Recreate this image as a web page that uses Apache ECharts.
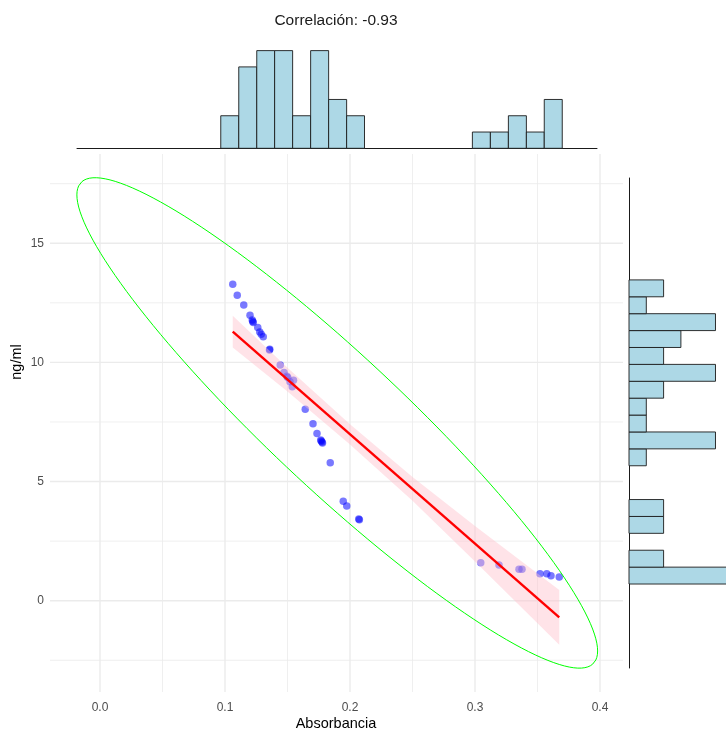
<!DOCTYPE html>
<html><head><meta charset="utf-8">
<script src="https://cdn.jsdelivr.net/npm/echarts@6/dist/echarts.min.js"></script>
<style>html,body{margin:0;padding:0;background:#fff}#c{width:726px;height:734px}</style>
</head><body><div id="c"></div><script>
// ---- data ----
const absorbancia = [0.1062,0.1098,0.1150,0.1200,0.1218,0.1226,0.1222,0.1262,0.1278,0.1290,0.1306,0.1358,0.1356,
  0.1442,0.1472,0.1495,0.1502,0.1520,0.1538,0.1548,0.1642,0.1704,0.1736,0.1766,0.1770,0.1776,0.1780,0.1842,
  0.1946,0.1974,0.2070,0.2075,0.3046,0.3192,0.3352,0.3376,0.3520,0.3574,0.3608,0.3674];
const ngml = [13.28,12.82,12.41,11.98,11.78,11.67,11.72,11.46,11.28,11.18,11.08,10.55,10.52,
  9.89,9.58,9.42,9.37,9.19,8.98,9.25,8.03,7.43,7.02,6.74,6.70,6.66,6.62,5.79,
  4.17,3.97,3.43,3.40,1.59,1.50,1.32,1.32,1.13,1.13,1.05,0.99];
const fitX = [0.1062, 0.3674];
const fitY = [11.29, -0.70];
const bandX  = [0.1062, 0.15, 0.2, 0.25, 0.3, 0.3674];
const bandLo = [10.62, 8.78, 6.56, 4.19, 1.64, -1.85];
const bandHi = [11.96, 9.78, 7.40, 5.19, 3.14, 0.45];
const xBinEdges = [0.0966,0.1110,0.1254,0.1397,0.1541,0.1685,0.1829,0.1973,0.2116,0.2260,0.2404,0.2548,0.2692,0.2835,0.2979,0.3123,0.3267,0.3411,0.3554,0.3698];
const xBinCounts = [2,5,6,6,2,6,3,2,0,0,0,0,0,0,1,1,2,1,3];
const yBinEdges = [0.700,1.409,2.118,2.827,3.536,4.245,4.954,5.663,6.372,7.081,7.790,8.499,9.208,9.917,10.626,11.335,12.044,12.753,13.462];
const yBinCounts = [6,2,0,2,2,0,0,1,5,1,1,2,5,2,3,5,1,2];
const xTickLabels = [0, 0.1, 0.2, 0.3, 0.4];
const yTickLabels = [0, 5, 10, 15];
const xGridMinor = [0.05, 0.15, 0.25, 0.35];
const yGridMinor = [-2.5, 2.5, 7.5, 12.5, 17.5];
const ellipseCenter = [0.1898, 7.46];
const ellipseRadii = [0.2083, 10.29];
const ellipseRho = -0.93;
const titleText = 'Correlación: -0.93';
const xTitle = 'Absorbancia';
const yTitle = 'ng/ml';

// ---- derived ----
const points = absorbancia.map((x, i) => [x, ngml[i]]);
const fitLine = fitX.map((x, i) => [x, fitY[i]]);
const ellipse = [];
for (let k = 0; k <= 160; k++) {
  const t = 2 * Math.PI * k / 160;
  ellipse.push([ellipseCenter[0] + ellipseRadii[0] * Math.cos(t),
    ellipseCenter[1] + ellipseRadii[1] * (ellipseRho * Math.cos(t) + Math.sqrt(1 - ellipseRho * ellipseRho) * Math.sin(t))]);
}
const xHist = [];
xBinCounts.forEach((c, i) => { if (c > 0) xHist.push([xBinEdges[i], xBinEdges[i + 1], c]); });
const yHist = [];
yBinCounts.forEach((c, i) => { if (c > 0) yHist.push([yBinEdges[i], yBinEdges[i + 1], c]); });

const FONT = 'Liberation Sans, Arial, sans-serif';
const histStyle = { fill: '#ADD8E6', stroke: '#1a1a1a', lineWidth: 0.9 };

const chart = echarts.init(document.getElementById('c'), null, { renderer: 'canvas' });
chart.setOption({
  animation: false,
  backgroundColor: '#fff',
  grid: [
    { left: 50, top: 154, width: 573, height: 538 },
    { left: 77, top: 40, width: 520, height: 108.3 },
    { left: 629, top: 178, width: 97, height: 490 }
  ],
  xAxis: [
    { gridIndex: 0, type: 'value', min: -0.04, max: 0.4184,
      axisLine: { show: false }, axisTick: { show: false }, splitLine: { show: false },
      axisLabel: { customValues: xTickLabels, formatter: v => v.toFixed(1), color: '#4d4d4d', fontSize: 12, fontFamily: FONT, margin: 10 } },
    { gridIndex: 1, type: 'value', min: -0.0184, max: 0.3976,
      axisLine: { show: true, onZero: false, lineStyle: { color: '#1a1a1a', width: 1 } },
      axisTick: { show: false }, axisLabel: { show: false }, splitLine: { show: false } },
    { gridIndex: 2, type: 'value', min: 0, max: 5.607, show: false }
  ],
  yAxis: [
    { gridIndex: 0, type: 'value', min: -3.831, max: 18.745,
      axisLine: { show: false }, axisTick: { show: false }, splitLine: { show: false },
      axisLabel: { customValues: yTickLabels, color: '#4d4d4d', fontSize: 12, fontFamily: FONT, margin: 6 } },
    { gridIndex: 1, type: 'value', min: 0, max: 6.652, show: false },
    { gridIndex: 2, type: 'value', min: -2.824, max: 17.738,
      axisLine: { show: true, onZero: false, lineStyle: { color: '#1a1a1a', width: 1 } },
      axisTick: { show: false }, axisLabel: { show: false }, splitLine: { show: false } }
  ],
  graphic: [
    { type: 'text', style: { text: titleText, x: 336, y: 21, textAlign: 'center', textVerticalAlign: 'middle', fontSize: 15.5, fontFamily: FONT, fill: '#1a1a1a' } },
    { type: 'text', style: { text: xTitle, x: 336, y: 724, textAlign: 'center', textVerticalAlign: 'middle', fontSize: 14.5, fontFamily: FONT, fill: '#000' } },
    { type: 'text', x: 17, y: 362, rotation: Math.PI / 2, style: { text: yTitle, x: 0, y: 0, textAlign: 'center', textVerticalAlign: 'middle', fontSize: 14.5, fontFamily: FONT, fill: '#000' } }
  ],
  series: [
    { type: 'custom', xAxisIndex: 0, yAxisIndex: 0, silent: true, data: [[0, 0]], z: 1,
      renderItem: (params, api) => {
        const cs = params.coordSys;
        const ch = [];
        const vline = (v, w) => { const p = api.coord([v, 0]); ch.push({ type: 'line', shape: { x1: p[0], y1: cs.y, x2: p[0], y2: cs.y + cs.height }, style: { stroke: '#ebebeb', lineWidth: w } }); };
        const hline = (v, w) => { const p = api.coord([0, v]); ch.push({ type: 'line', shape: { x1: cs.x, y1: p[1], x2: cs.x + cs.width, y2: p[1] }, style: { stroke: '#ebebeb', lineWidth: w } }); };
        xGridMinor.forEach(v => vline(v, 0.8));
        yGridMinor.forEach(v => hline(v, 0.8));
        xTickLabels.forEach(v => vline(v, 1.4));
        yTickLabels.forEach(v => hline(v, 1.4));
        return { type: 'group', children: ch };
      } },
    { type: 'scatter', xAxisIndex: 0, yAxisIndex: 0, data: points, symbolSize: 7.5, z: 2,
      itemStyle: { color: 'rgba(0,0,255,0.66)' } },
    { type: 'custom', xAxisIndex: 0, yAxisIndex: 0, silent: true, data: [[0, 0]], z: 3,
      renderItem: (params, api) => {
        const pts = [];
        bandX.forEach((x, i) => pts.push(api.coord([x, bandHi[i]])));
        for (let i = bandX.length - 1; i >= 0; i--) pts.push(api.coord([bandX[i], bandLo[i]]));
        return { type: 'polygon', shape: { points: pts }, style: { fill: 'rgba(255,192,203,0.45)' } };
      } },
    { type: 'line', xAxisIndex: 0, yAxisIndex: 0, data: fitLine, showSymbol: false, z: 4,
      lineStyle: { color: '#ff0000', width: 2.4 } },
    { type: 'line', xAxisIndex: 0, yAxisIndex: 0, data: ellipse, showSymbol: false, smooth: false, z: 4,
      lineStyle: { color: '#00ff00', width: 1 } },
    { type: 'custom', xAxisIndex: 1, yAxisIndex: 1, data: xHist, z: 2,
      renderItem: (params, api) => {
        const p0 = api.coord([api.value(0), 0]);
        const p1 = api.coord([api.value(1), api.value(2)]);
        return { type: 'rect', shape: { x: p0[0], y: p1[1], width: p1[0] - p0[0], height: p0[1] - p1[1] }, style: histStyle };
      } },
    { type: 'custom', xAxisIndex: 2, yAxisIndex: 2, data: yHist, z: 2,
      renderItem: (params, api) => {
        const p0 = api.coord([0, api.value(0)]);
        const p1 = api.coord([api.value(2), api.value(1)]);
        return { type: 'rect', shape: { x: p0[0], y: p1[1], width: p1[0] - p0[0], height: p0[1] - p1[1] }, style: histStyle };
      } }
  ]
});
</script></body></html>
